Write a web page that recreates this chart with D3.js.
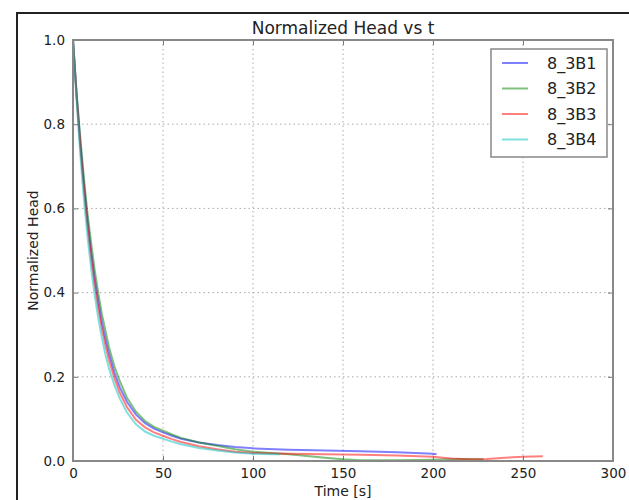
<!DOCTYPE html>
<html><head><meta charset="utf-8">
<script src="https://cdn.jsdelivr.net/npm/d3@7"></script>
<style>body{margin:0;background:#fff}svg{display:block}text{font-family:"DejaVu Sans",sans-serif;fill:#222}</style>
</head><body><svg id="c" width="629" height="500"></svg>
<script>
const title = "Normalized Head vs t";
const xLabel = "Time [s]";
const yLabel = "Normalized Head";
const xTicks = [0, 50, 100, 150, 200, 250, 300];
const yTicks = [0.0, 0.2, 0.4, 0.6, 0.8, 1.0];
const seriesNames = ["8_3B1", "8_3B2", "8_3B3", "8_3B4"];
const seriesColors = ["#0000ff", "#008000", "#ff0000", "#00bfbf"];

const t1 = [0,2,4,6,8,10,12,14,16,18,20,23,26,30,35,40,45,50,55,60,70,80,90,100,120,140,160,180,200,202];
const v1 = [1.0,0.87,0.76,0.66,0.575,0.50,0.435,0.38,0.33,0.29,0.255,0.21,0.175,0.14,0.11,0.09,0.077,0.068,0.06,0.053,0.044,0.038,0.033,0.03,0.027,0.025,0.023,0.021,0.017,0.016];
const t2 = [0,2,4,6,8,10,12,14,16,18,20,23,26,30,35,40,45,50,55,60,70,80,90,100,110,120,130,140,150,160,180,200,215,228];
const v2 = [1.0,0.875,0.77,0.675,0.59,0.52,0.455,0.40,0.35,0.31,0.27,0.225,0.19,0.15,0.117,0.095,0.081,0.072,0.063,0.055,0.044,0.036,0.028,0.022,0.019,0.016,0.012,0.008,0.004,0.002,0.002,0.003,0.005,0.004];
const t3 = [0,2,4,6,8,10,12,14,16,18,20,23,26,30,35,40,45,50,55,60,70,80,90,100,120,140,160,180,200,210,220,230,240,250,261];
const v3 = [1.0,0.865,0.75,0.65,0.56,0.485,0.42,0.365,0.315,0.275,0.24,0.197,0.162,0.128,0.098,0.08,0.068,0.06,0.052,0.045,0.035,0.028,0.022,0.019,0.017,0.016,0.015,0.013,0.01,0.006,0.004,0.005,0.008,0.01,0.011];
const t4 = [0,2,4,6,8,10,12,14,16,18,20,23,26,30,35,40,45,50,55,60,70,80,90,100,110,115];
const v4 = [1.0,0.855,0.73,0.625,0.535,0.46,0.395,0.34,0.293,0.253,0.22,0.18,0.148,0.115,0.087,0.07,0.06,0.053,0.046,0.04,0.031,0.025,0.02,0.017,0.016,0.016];

const series = [[t1,v1],[t2,v2],[t3,v3],[t4,v4]].map((s,i)=>({name:seriesNames[i],color:seriesColors[i],pts:s[0].map((t,j)=>[t,s[1][j]])}));

const svg = d3.select("#c");
const L=73, R=613, T=40, B=461;
const x = d3.scaleLinear().domain([0,300]).range([L,R]);
const y = d3.scaleLinear().domain([0,1]).range([B,T]);

// figure frame
svg.append("path").attr("d","M17,500 L17,13 L629,13").attr("fill","none").attr("stroke","#222").attr("stroke-width",2);

// grid
const g = svg.append("g");
g.selectAll(".gx").data(xTicks.slice(1,-1)).join("line").attr("x1",d=>x(d)).attr("x2",d=>x(d)).attr("y1",T).attr("y2",B)
 .attr("stroke","#aaa").attr("stroke-dasharray","1.5,3").attr("stroke-width",1);
g.selectAll(".gy").data(yTicks.slice(1,-1)).join("line").attr("y1",d=>y(d)).attr("y2",d=>y(d)).attr("x1",L).attr("x2",R)
 .attr("stroke","#aaa").attr("stroke-dasharray","1.5,3").attr("stroke-width",1);

// lines
const line = d3.line().x(d=>x(d[0])).y(d=>y(d[1]));
svg.append("defs").append("clipPath").attr("id","clip").append("rect").attr("x",L).attr("y",T).attr("width",R-L).attr("height",B-T);
svg.append("g").attr("clip-path","url(#clip)").selectAll("path").data(series).join("path")
 .attr("d",d=>line(d.pts)).attr("fill","none").attr("stroke",d=>d.color).attr("stroke-opacity",0.5).attr("stroke-width",2);

// axes with inward ticks on all sides
const ax = (gen)=>gen.tickSizeInner(-5).tickSizeOuter(0).tickPadding(7);
const xb = svg.append("g").attr("transform",`translate(0,${B})`).call(ax(d3.axisBottom(x).tickValues(xTicks).tickFormat(d3.format("d"))));
const xt = svg.append("g").attr("transform",`translate(0,${T})`).call(ax(d3.axisTop(x).tickValues(xTicks)).tickFormat(""));
const yl = svg.append("g").attr("transform",`translate(${L},0)`).call(ax(d3.axisLeft(y).tickValues(yTicks).tickFormat(d3.format(".1f"))));
const yr = svg.append("g").attr("transform",`translate(${R},0)`).call(ax(d3.axisRight(y).tickValues(yTicks)).tickFormat(""));
[xb,xt,yl,yr].forEach(a=>{a.select(".domain").remove();a.selectAll("line").attr("stroke","#777").attr("stroke-width",1);
  a.selectAll("text").attr("font-size",13.5).attr("font-family","DejaVu Sans").attr("fill","#222");});
yl.selectAll("text").attr("dx",-1);
svg.append("rect").attr("x",L).attr("y",T).attr("width",R-L).attr("height",B-T).attr("fill","none").attr("stroke","#888").attr("stroke-width",2);

// titles
svg.append("text").attr("x",(L+R)/2).attr("y",34).attr("text-anchor","middle").attr("font-size",17).text(title);
svg.append("text").attr("x",(L+R)/2).attr("y",496).attr("text-anchor","middle").attr("font-size",14).text(xLabel);
svg.append("text").attr("transform",`translate(38,${(T+B)/2}) rotate(-90)`).attr("text-anchor","middle").attr("font-size",14).text(yLabel);

// legend
const lg = svg.append("g");
lg.append("rect").attr("x",491).attr("y",49).attr("width",116).attr("height",108).attr("fill","#fff").attr("stroke","#888").attr("stroke-width",1.5);
series.forEach((s,i)=>{
  const yy = 63 + i*25.5;
  lg.append("line").attr("x1",502).attr("x2",528).attr("y1",yy).attr("y2",yy).attr("stroke",s.color).attr("stroke-opacity",0.5).attr("stroke-width",2);
  lg.append("text").attr("x",547).attr("y",yy+5.5).attr("font-size",16).text(s.name);
});
</script></body></html>
